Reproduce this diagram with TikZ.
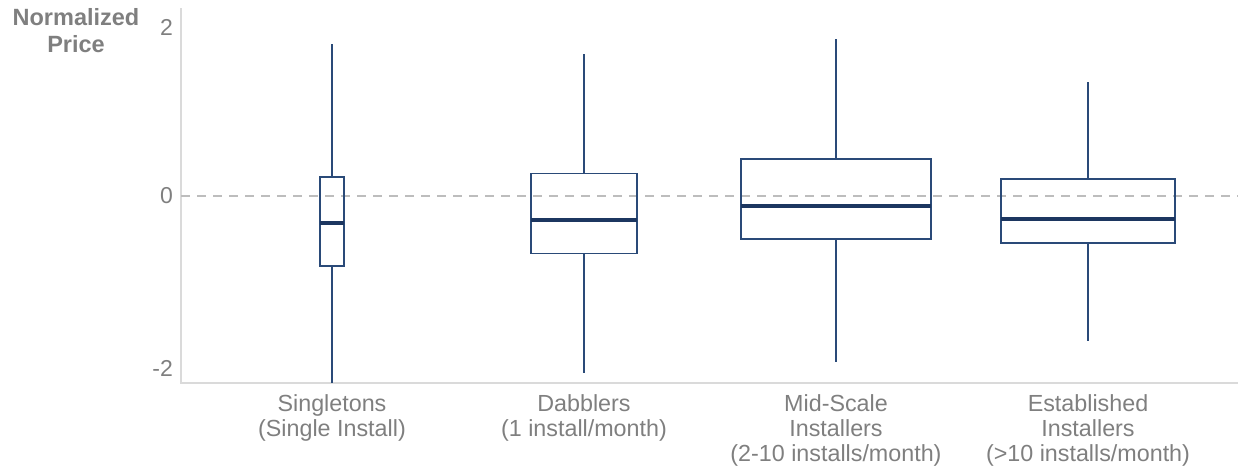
\documentclass[tikz,border=0pt]{standalone}
\usepackage{fontspec}
\setmainfont{Liberation Sans}
\definecolor{boxc}{HTML}{2A4A78}
\definecolor{medc}{HTML}{1C3660}
\definecolor{txtc}{HTML}{7F7F7F}
\definecolor{axc}{HTML}{DADADA}
\definecolor{zeroc}{HTML}{BDBDBD}
\begin{document}
\begin{tikzpicture}[x=1pt,y=-1pt,
  boxst/.style={draw=boxc, line width=1.6pt, inner sep=0pt, outer sep=0pt},
  whisk/.style={draw=boxc, line width=1.6pt},
  med/.style={draw=medc, line width=3.6pt},
  axisln/.style={draw=axc, line width=1.4pt},
  zeroln/.style={draw=zeroc, line width=1.8pt, dash pattern=on 9pt off 7pt},
  cat/.style={text=txtc, font=\fontsize{23.3}{25}\selectfont, align=center, anchor=north, inner sep=0pt},
  ticklab/.style={text=txtc, font=\fontsize{23}{25}\selectfont, anchor=east, inner sep=0pt},
]
\useasboundingbox (0,0) rectangle (1238,469);

% axes
\coordinate (axt) at (181,8);
\coordinate (axo) at (181,383);
\coordinate (axr) at (1238,383);
\draw[axisln] (axt) -- (axo) -- (axr);

% zero line
\coordinate (zl) at (181,196);
\coordinate (zr) at (1238,196);
\draw[zeroln] (zl) -- (zr);

% title and ticks
\node[text=txtc, font=\bfseries\fontsize{23.5}{27}\selectfont, align=center, inner sep=0pt] (ytitle) at (76,31) {Normalized\\Price};
\node[ticklab] (t2) at (173,27) {2};
\node[ticklab] (t0) at (173,196) {0};
\node[ticklab] (tm2) at (173,368) {-2};

% box 1
\node[boxst, minimum width=24pt, minimum height=89pt] (b1) at (332,221.5) {};
\coordinate (b1t) at (332,44);
\coordinate (b1b) at (332,383);
\draw[whisk] (b1.north) -- (b1t);
\draw[whisk] (b1.south) -- (b1b);
\coordinate (m1l) at (320,223);
\coordinate (m1r) at (344,223);
\draw[med] (m1l) -- (m1r);

% box 2
\node[boxst, minimum width=106pt, minimum height=80pt] (b2) at (584,213.5) {};
\coordinate (b2t) at (584,54);
\coordinate (b2b) at (584,373);
\draw[whisk] (b2.north) -- (b2t);
\draw[whisk] (b2.south) -- (b2b);
\coordinate (m2l) at (531,220);
\coordinate (m2r) at (637,220);
\draw[med] (m2l) -- (m2r);

% box 3
\node[boxst, minimum width=190pt, minimum height=80pt] (b3) at (836,199) {};
\coordinate (b3t) at (836,39);
\coordinate (b3b) at (836,362);
\draw[whisk] (b3.north) -- (b3t);
\draw[whisk] (b3.south) -- (b3b);
\coordinate (m3l) at (741,206);
\coordinate (m3r) at (931,206);
\draw[med] (m3l) -- (m3r);

% box 4
\node[boxst, minimum width=174pt, minimum height=64pt] (b4) at (1088,211) {};
\coordinate (b4t) at (1088,82);
\coordinate (b4b) at (1088,341);
\draw[whisk] (b4.north) -- (b4t);
\draw[whisk] (b4.south) -- (b4b);
\coordinate (m4l) at (1001,219);
\coordinate (m4r) at (1175,219);
\draw[med] (m4l) -- (m4r);

% category labels
\node[cat] (c1) at (332,394) {Singletons\\(Single Install)};
\node[cat] (c2) at (584,394) {Dabblers\\(1 install/month)};
\node[cat] (c3) at (836,394) {Mid-Scale\\Installers\\(2-10 installs/month)};
\node[cat] (c4) at (1088,394) {Established\\Installers\\(>10 installs/month)};
\end{tikzpicture}
\end{document}
